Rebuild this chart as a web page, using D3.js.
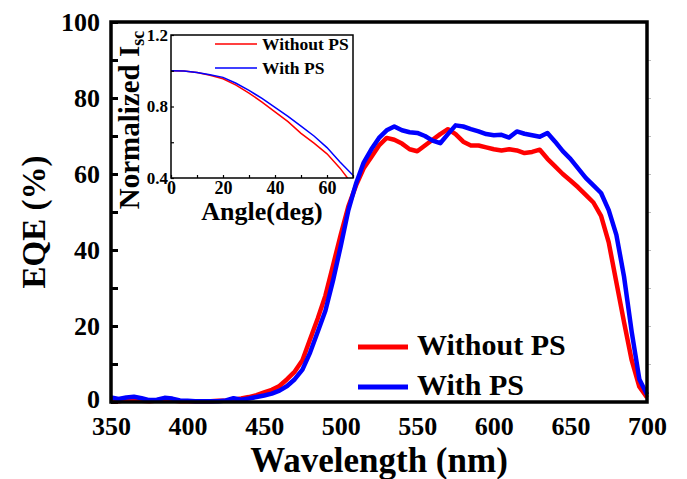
<!DOCTYPE html>
<html>
<head>
<meta charset="utf-8">
<script src="https://cdn.jsdelivr.net/npm/d3@7"></script>
<style>
  body { margin: 0; background: #fff; }
  svg text { font-family: 'Liberation Serif', 'DejaVu Serif', serif !important; font-weight: bold; fill: #000; }
</style>
</head>
<body>
<svg width="687" height="479"></svg>
<script>
// DATA ////////////////////////////////////////////////////////////////////////
const wavelength = d3.range(350, 701, 5);
const eqeWithout = [
  0.3, 0.2, 0.5, 0.6, 0.3, 0.2, 0.4, 0.7, 0.4, 0.2,
  0.2, 0.2, 0.2, 0.2, 0.3, 0.4, 0.6, 0.9, 1.3, 1.8,
  2.5, 3.2, 4.2, 6.0, 8.0, 11.0, 16.5, 22.0, 28.0, 36.0,
  44.0, 51.5, 57.0, 61.5, 64.5, 67.5, 69.5, 69.0, 68.0, 66.5,
  66.0, 67.5, 69.0, 70.5, 71.8, 70.5, 68.5, 67.5, 67.5, 67.0,
  66.5, 66.2, 66.5, 66.2, 65.5, 65.8, 66.4, 64.0, 62.0, 60.0,
  58.3, 56.5, 54.5, 52.5, 49.0, 42.0, 31.5, 21.0, 11.0, 4.0,
  1.2
];
const eqeWith = [
  1.2, 0.8, 1.2, 1.4, 1.0, 0.5, 0.6, 1.1, 0.9, 0.4,
  0.3, 0.2, 0.2, 0.2, 0.2, 0.4, 1.0, 0.6, 0.9, 1.3,
  1.7, 2.2, 3.0, 4.2, 6.0, 8.5, 13.0, 18.5, 24.0, 32.0,
  41.0, 50.5, 57.5, 63.0, 66.5, 69.5, 71.5, 72.5, 71.5, 71.0,
  70.8, 70.0, 68.8, 68.1, 70.5, 72.8, 72.5, 71.8, 71.2, 70.5,
  70.2, 70.3, 69.6, 71.2, 70.6, 70.2, 69.8, 70.8, 68.5, 66.0,
  64.0, 61.5, 59.0, 57.0, 55.0, 50.5, 44.0, 33.0, 18.5, 6.0,
  2.0
];

const angle = d3.range(0, 71, 5);
const iscWithout = [1.0, 0.998, 0.99, 0.975, 0.955, 0.92, 0.875, 0.825, 0.77, 0.715, 0.65, 0.595, 0.535, 0.455, 0.36];
const iscWith = [1.0, 0.998, 0.99, 0.978, 0.963, 0.93, 0.89, 0.845, 0.795, 0.745, 0.69, 0.635, 0.57, 0.49, 0.415];

const xTicks = [350, 400, 450, 500, 550, 600, 650, 700];
const yTicks = [0, 20, 40, 60, 80, 100];
const insetXTicks = [0, 20, 40, 60];
const insetYTicks = [0.4, 0.8, 1.2];
const seriesNames = ['Without PS', 'With PS'];
const seriesColors = ['#ff0000', '#0000ff'];

// SET PARAMETERS //////////////////////////////////////////////////////////////
const svg = d3.select('svg');
const plot = { left: 111, right: 647, top: 22, bottom: 402 };
const inset = { left: 171, right: 353, top: 35, bottom: 178 };

const x = d3.scaleLinear().domain([350, 700]).range([plot.left, plot.right]);
const y = d3.scaleLinear().domain([0, 100]).range([plot.bottom, plot.top]);
const ix = d3.scaleLinear().domain([0, 70]).range([inset.left, inset.right]);
const iy = d3.scaleLinear().domain([0.4, 1.2]).range([inset.bottom, inset.top]);

// MAIN PLOT ///////////////////////////////////////////////////////////////////
// left axis: labels every 20, inward ticks every 10
const yAxis = svg.append('g')
  .attr('transform', `translate(${plot.left},0)`)
  .call(d3.axisLeft(y).tickValues(d3.range(0, 101, 10)).tickSize(-7).tickPadding(11)
    .tickFormat(d => yTicks.includes(d) ? d : ''));
yAxis.select('.domain').remove();
yAxis.selectAll('line').attr('stroke', '#000').attr('stroke-width', 3);
yAxis.selectAll('text').style('font-size', '26px');
// the "0" sits a touch high so it clears the "350" below it
yAxis.selectAll('text').filter(d => d === 0).attr('dy', '0.2em');

// right axis: faint outside ticks
const yRight = svg.append('g')
  .attr('transform', `translate(${plot.right},0)`)
  .call(d3.axisRight(y).tickValues(d3.range(10, 100, 10)).tickSize(4).tickFormat(''));
yRight.select('.domain').remove();
yRight.selectAll('line').attr('stroke', '#bbb').attr('stroke-width', 1);

const xAxis = svg.append('g')
  .attr('transform', `translate(0,${plot.bottom})`)
  .call(d3.axisBottom(x).tickValues(xTicks).tickSize(0).tickPadding(15));
xAxis.select('.domain').remove();
xAxis.selectAll('text').style('font-size', '26px');

// curves
const line = d3.line().x((d, i) => x(wavelength[i])).y(d => y(d));
[eqeWithout, eqeWith].forEach((s, k) => {
  svg.append('path')
    .datum(s)
    .attr('fill', 'none')
    .attr('stroke', seriesColors[k])
    .attr('stroke-width', 4.5)
    .attr('stroke-linejoin', 'round')
    .attr('d', line);
});

// frame
svg.append('rect')
  .attr('x', plot.left).attr('y', plot.top)
  .attr('width', plot.right - plot.left).attr('height', plot.bottom - plot.top)
  .attr('fill', 'none').attr('stroke', '#000').attr('stroke-width', 3.5);

// axis titles
svg.append('text')
  .attr('x', (plot.left + plot.right) / 2).attr('y', 472)
  .attr('text-anchor', 'middle')
  .style('font-size', '35px')
  .text('Wavelength (nm)');

svg.append('text')
  .attr('transform', 'translate(45,222) rotate(-90)')
  .attr('text-anchor', 'middle')
  .style('font-size', '33px')
  .text('EQE (%)');

// main legend
const legend = svg.append('g');
seriesNames.forEach((name, k) => {
  const ly = 347 + k * 40;
  legend.append('line')
    .attr('x1', 358).attr('x2', 408).attr('y1', ly).attr('y2', ly)
    .attr('stroke', seriesColors[k]).attr('stroke-width', 5);
  legend.append('text')
    .attr('x', 417).attr('y', ly + 8)
    .style('font-size', '30px')
    .text(name);
});

// INSET ///////////////////////////////////////////////////////////////////////
svg.append('rect')
  .attr('x', inset.left).attr('y', inset.top)
  .attr('width', inset.right - inset.left).attr('height', inset.bottom - inset.top)
  .attr('fill', '#fff');

svg.append('clipPath').attr('id', 'inset-clip')
  .append('rect')
  .attr('x', inset.left).attr('y', inset.top)
  .attr('width', inset.right - inset.left).attr('height', inset.bottom - inset.top);

const iline = d3.line().x((d, i) => ix(angle[i])).y(d => iy(d));
[iscWithout, iscWith].forEach((s, k) => {
  svg.append('path')
    .datum(s)
    .attr('clip-path', 'url(#inset-clip)')
    .attr('fill', 'none')
    .attr('stroke', seriesColors[k])
    .attr('stroke-width', 1.5)
    .attr('d', iline);
});

const ixAxis = svg.append('g')
  .attr('transform', `translate(0,${inset.bottom})`)
  .call(d3.axisBottom(ix).tickValues(d3.range(0, 71, 10)).tickSize(-3).tickPadding(3)
    .tickFormat(d => insetXTicks.includes(d) ? d : ''));
ixAxis.select('.domain').remove();
ixAxis.selectAll('line').attr('stroke', '#000').attr('stroke-width', 1.2);
ixAxis.selectAll('text').style('font-size', '18px');

const iyAxis = svg.append('g')
  .attr('transform', `translate(${inset.left},0)`)
  .call(d3.axisLeft(iy).tickValues([0.4, 0.6, 0.8, 1.0, 1.2]).tickSize(-3).tickPadding(3)
    .tickFormat(d => insetYTicks.some(v => Math.abs(v - d) < 1e-9) ? d3.format('.1f')(d) : ''));
iyAxis.select('.domain').remove();
iyAxis.selectAll('line').attr('stroke', '#000').attr('stroke-width', 1.2);
iyAxis.selectAll('text').style('font-size', '17px');

svg.append('rect')
  .attr('x', inset.left).attr('y', inset.top)
  .attr('width', inset.right - inset.left).attr('height', inset.bottom - inset.top)
  .attr('fill', 'none').attr('stroke', '#000').attr('stroke-width', 1.5);

svg.append('text')
  .attr('x', (inset.left + inset.right) / 2).attr('y', 220)
  .attr('text-anchor', 'middle')
  .style('font-size', '26px')
  .text('Angle(deg)');

const ylab = svg.append('text')
  .attr('transform', 'translate(139,120) rotate(-90)')
  .attr('text-anchor', 'middle')
  .style('font-size', '29px');
ylab.append('tspan').text('Normalized I');
ylab.append('tspan').attr('dy', 5).style('font-size', '18px').text('sc');

// inset legend
seriesNames.forEach((name, k) => {
  const ly = 44 + k * 24;
  svg.append('line')
    .attr('x1', 215).attr('x2', 257).attr('y1', ly).attr('y2', ly)
    .attr('stroke', seriesColors[k]).attr('stroke-width', 1.5);
  svg.append('text')
    .attr('x', 262).attr('y', ly + 6)
    .style('font-size', '17.5px')
    .text(name);
});
</script>
</body>
</html>
